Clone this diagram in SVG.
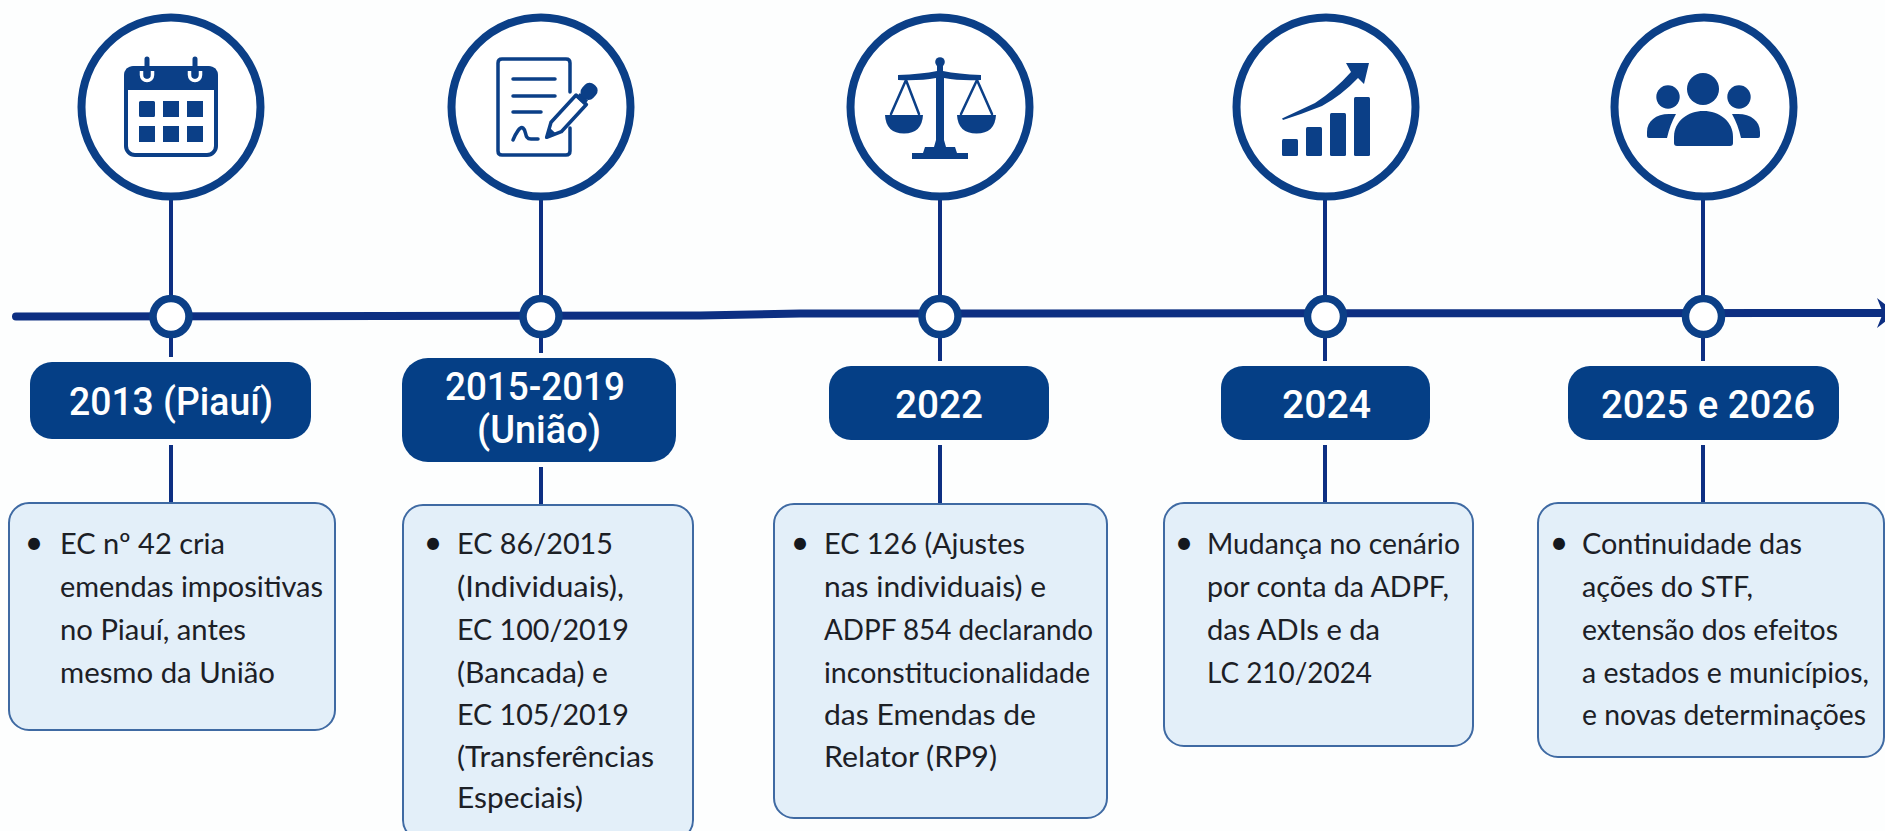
<svg xmlns="http://www.w3.org/2000/svg" width="1885" height="831" viewBox="0 0 1885 831">
<style>
.ring{fill:#fff;stroke:#0b3f87;stroke-width:8}
.dot{fill:#fff;stroke:#0b3f87;stroke-width:7.500}
.pill{fill:#053f86}
.box{fill:#e3eff9;stroke:#3f6aa3;stroke-width:2}
.pt{font-family:"Roboto","Liberation Sans",sans-serif;font-size:38px;font-weight:500;fill:#fff}
.bt{font-family:"Lato","Liberation Sans",sans-serif;font-size:29.500px;fill:#1c2026}
.bu{font-family:"Lato","Liberation Sans",sans-serif;font-size:32px;fill:#14181e;text-anchor:middle}
.stem{stroke:#0d2f82;stroke-width:4;fill:none}
.ln{stroke:#0b3f87;fill:none;stroke-linecap:round;stroke-linejoin:round}
.fl{fill:#0b3f87}
</style>
<defs>
<marker id="chev" markerUnits="userSpaceOnUse" markerWidth="24" markerHeight="34" refX="6" refY="16" orient="0" overflow="visible"><path d="M1 1L7 16L1 31L20 16Z" fill="#0d2f82"/></marker>
</defs>
<rect width="1885" height="831" fill="#fdfefe"/>
<g id="connectors">
<path d="M16 316.500L700 315.500L800 313.500L1882 313" stroke="#0d2f82" stroke-width="8" stroke-linecap="round" stroke-linejoin="round" fill="none" marker-end="url(#chev)"/>
<path class="stem" d="M171 200V296M171 336V357M171 445V503"/>
<path class="stem" d="M541 200V296M541 336V353M541 467V505"/>
<path class="stem" d="M940 200V296M940 336V361M940 445V504"/>
<path class="stem" d="M1325 200V296M1325 336V361M1325 445V504"/>
<path class="stem" d="M1703 200V296M1703 336V361M1703 445V503"/>
</g>
<g id="node-2013">
<circle class="ring" cx="171" cy="107" r="89.500"/>
<rect class="ln" x="126" y="68" width="90" height="87" rx="9" stroke-width="4" fill="none"/>
<path class="fl" d="M134 66H208Q218 66 218 76V90H124V76Q124 66 134 66Z"/>
<path d="M141.500 71V75A5.500 5.500 0 0 0 152.500 75V71M189.500 71V75A5.500 5.500 0 0 0 200.500 75V71" fill="none" stroke="#fff" stroke-width="3.500"/>
<path class="ln" stroke-width="5" d="M147 59V76M195 59V76"/>
<path class="fl" d="M139 102.500a1.500 1.500 0 0 1 1.500-1.500h13a1.500 1.500 0 0 1 1.500 1.500v13a1.500 1.500 0 0 1-1.500 1.500h-13a1.500 1.500 0 0 1-1.500-1.500zM163 101h16v16h-16zM187 101h16v16h-16zM139 126h16v16h-16zM163 126h16v16h-16zM187 126h16v16h-16z"/>
<circle class="dot" cx="171" cy="316.500" r="18"/>
<rect class="pill" x="30" y="362" width="281" height="77" rx="22"/>
<text class="pt" x="69" y="415" textLength="204" lengthAdjust="spacingAndGlyphs">2013 (Piauí)</text>
<rect class="box" x="9" y="503" width="326" height="227" rx="20"/>
<text class="bu" x="34" y="554">•</text>
<text class="bt" x="60" y="554" textLength="165" lengthAdjust="spacingAndGlyphs">EC nº 42 cria</text>
<text class="bt" x="60" y="597" textLength="263" lengthAdjust="spacingAndGlyphs">emendas impositivas</text>
<text class="bt" x="60" y="640" textLength="186" lengthAdjust="spacingAndGlyphs">no Piauí, antes</text>
<text class="bt" x="60" y="683" textLength="215" lengthAdjust="spacingAndGlyphs">mesmo da União</text>
</g>
<g id="node-2015-2019">
<circle class="ring" cx="541" cy="107" r="89.500"/>
<path class="ln" stroke-width="3.500" fill="none" d="M570 92V63Q570 59 566 59H502Q498 59 498 63V151Q498 155 502 155H566Q570 155 570 151V128"/>
<path class="ln" stroke-width="3.500" d="M513 79H555M513 96H555M513 112H541"/>
<path class="ln" stroke-width="3.500" d="M513 140C516 133 520 126 523 128C527 131 524 139 531 139H538"/>
<g transform="translate(546 138) rotate(-47.300)">
<path d="M1 0L15-7H52V7H15Z" fill="#fff" stroke="#0b3f87" stroke-width="3.500" stroke-linejoin="round"/>
<path class="fl" d="M0 0L10-4.500V4.500Z"/>
<rect class="fl" x="50" y="-5.500" width="6" height="11"/>
<rect class="fl" x="55" y="-7.500" width="17" height="15" rx="6.500"/>
</g>
<circle class="dot" cx="541" cy="316.500" r="18"/>
<rect class="pill" x="402" y="358" width="274" height="104" rx="26"/>
<text class="pt" x="445" y="400" textLength="180" lengthAdjust="spacingAndGlyphs">2015-2019</text>
<text class="pt" x="477" y="443" textLength="124" lengthAdjust="spacingAndGlyphs">(União)</text>
<rect class="box" x="403" y="505" width="290" height="335" rx="20"/>
<text class="bu" x="433" y="554">•</text>
<text class="bt" x="457" y="554" textLength="156" lengthAdjust="spacingAndGlyphs">EC 86/2015</text>
<text class="bt" x="457" y="597" textLength="167" lengthAdjust="spacingAndGlyphs">(Individuais),</text>
<text class="bt" x="457" y="640" textLength="172" lengthAdjust="spacingAndGlyphs">EC 100/2019</text>
<text class="bt" x="457" y="683" textLength="151" lengthAdjust="spacingAndGlyphs">(Bancada) e</text>
<text class="bt" x="457" y="725" textLength="172" lengthAdjust="spacingAndGlyphs">EC 105/2019</text>
<text class="bt" x="457" y="767" textLength="197" lengthAdjust="spacingAndGlyphs">(Transferências</text>
<text class="bt" x="457" y="808" textLength="126" lengthAdjust="spacingAndGlyphs">Especiais)</text>
</g>
<g id="node-2022">
<circle class="ring" cx="940" cy="107" r="89.500"/>
<circle class="fl" cx="940" cy="62" r="4.800"/>
<path class="fl" d="M937 66H943V71Q958 74 981 75V80Q960 81 944 78V140L946 147H955L957 153H968V159H912V153H923L925 147H934L936 140V78Q920 81 898 80V75Q922 74 937 71Z"/>
<path class="ln" stroke-width="2.500" d="M891 114L906 80L919 114M961 114L977 80L992 114"/>
<path class="fl" d="M885 115H923Q922 133.500 904 133.500Q886 133.500 885 115ZM957 115H996Q995 133.500 976.500 133.500Q958 133.500 957 115Z"/>
<circle class="dot" cx="940" cy="316.500" r="18"/>
<rect class="pill" x="829" y="366" width="220" height="74" rx="22"/>
<text class="pt" x="895" y="418" textLength="88" lengthAdjust="spacingAndGlyphs">2022</text>
<rect class="box" x="774" y="504" width="333" height="314" rx="20"/>
<text class="bu" x="800" y="554">•</text>
<text class="bt" x="824" y="554" textLength="201" lengthAdjust="spacingAndGlyphs">EC 126 (Ajustes</text>
<text class="bt" x="824" y="597" textLength="222" lengthAdjust="spacingAndGlyphs">nas individuais) e</text>
<text class="bt" x="824" y="640" textLength="269" lengthAdjust="spacingAndGlyphs">ADPF 854 declarando</text>
<text class="bt" x="824" y="683" textLength="266" lengthAdjust="spacingAndGlyphs">inconstitucionalidade</text>
<text class="bt" x="824" y="725" textLength="212" lengthAdjust="spacingAndGlyphs">das Emendas de</text>
<text class="bt" x="824" y="767" textLength="173" lengthAdjust="spacingAndGlyphs">Relator (RP9)</text>
</g>
<g id="node-2024">
<circle class="ring" cx="1326" cy="107" r="89.500"/>
<rect class="fl" x="1282" y="139" width="16" height="17" rx="1.500"/>
<rect class="fl" x="1306" y="127" width="16" height="29" rx="1.500"/>
<rect class="fl" x="1330" y="113" width="16" height="43" rx="1.500"/>
<rect class="fl" x="1354" y="97" width="16" height="59" rx="1.500"/>
<path class="fl" d="M1282 118.500L1315 103Q1335 90 1351 72L1346 63H1369L1364 84L1358 78Q1342 95 1322 106Q1302 114 1283 120Z"/>
<circle class="dot" cx="1325.500" cy="316.500" r="18"/>
<rect class="pill" x="1221" y="366" width="209" height="74" rx="22"/>
<text class="pt" x="1282" y="418" textLength="89" lengthAdjust="spacingAndGlyphs">2024</text>
<rect class="box" x="1164" y="503" width="309" height="243" rx="20"/>
<text class="bu" x="1184" y="554">•</text>
<text class="bt" x="1207" y="554" textLength="253" lengthAdjust="spacingAndGlyphs">Mudança no cenário</text>
<text class="bt" x="1207" y="597" textLength="242" lengthAdjust="spacingAndGlyphs">por conta da ADPF,</text>
<text class="bt" x="1207" y="640" textLength="173" lengthAdjust="spacingAndGlyphs">das ADIs e da</text>
<text class="bt" x="1207" y="683" textLength="165" lengthAdjust="spacingAndGlyphs">LC 210/2024</text>
</g>
<g id="node-2025-2026">
<circle class="ring" cx="1704" cy="107" r="89.500"/>
<circle class="fl" cx="1703" cy="89" r="16"/>
<circle class="fl" cx="1668" cy="97" r="11.700"/>
<circle class="fl" cx="1739" cy="97" r="11.700"/>
<path class="fl" d="M1674 143V137C1674 121 1688 111 1703.500 111C1719 111 1733 121 1733 137V143Q1733 146 1730 146H1677Q1674 146 1674 143Z"/>
<path class="fl" d="M1647 136V132C1647 121 1656 114 1669 114H1676C1672 121 1669 129 1667 138H1649Q1647 138 1647 136ZM1760 136V132C1760 121 1751 114 1738 114H1732C1736 121 1739 129 1741 138H1758Q1760 138 1760 136Z"/>
<circle class="dot" cx="1703.500" cy="316.500" r="18"/>
<rect class="pill" x="1568" y="366" width="271" height="74" rx="22"/>
<text class="pt" x="1601" y="418" textLength="214" lengthAdjust="spacingAndGlyphs">2025 e 2026</text>
<rect class="box" x="1538" y="503" width="346" height="254" rx="20"/>
<text class="bu" x="1559" y="554">•</text>
<text class="bt" x="1582" y="554" textLength="220" lengthAdjust="spacingAndGlyphs">Continuidade das</text>
<text class="bt" x="1582" y="597" textLength="171" lengthAdjust="spacingAndGlyphs">ações do STF,</text>
<text class="bt" x="1582" y="640" textLength="256" lengthAdjust="spacingAndGlyphs">extensão dos efeitos</text>
<text class="bt" x="1582" y="683" textLength="287" lengthAdjust="spacingAndGlyphs">a estados e municípios,</text>
<text class="bt" x="1582" y="725" textLength="284" lengthAdjust="spacingAndGlyphs">e novas determinações</text>
</g>
</svg>
